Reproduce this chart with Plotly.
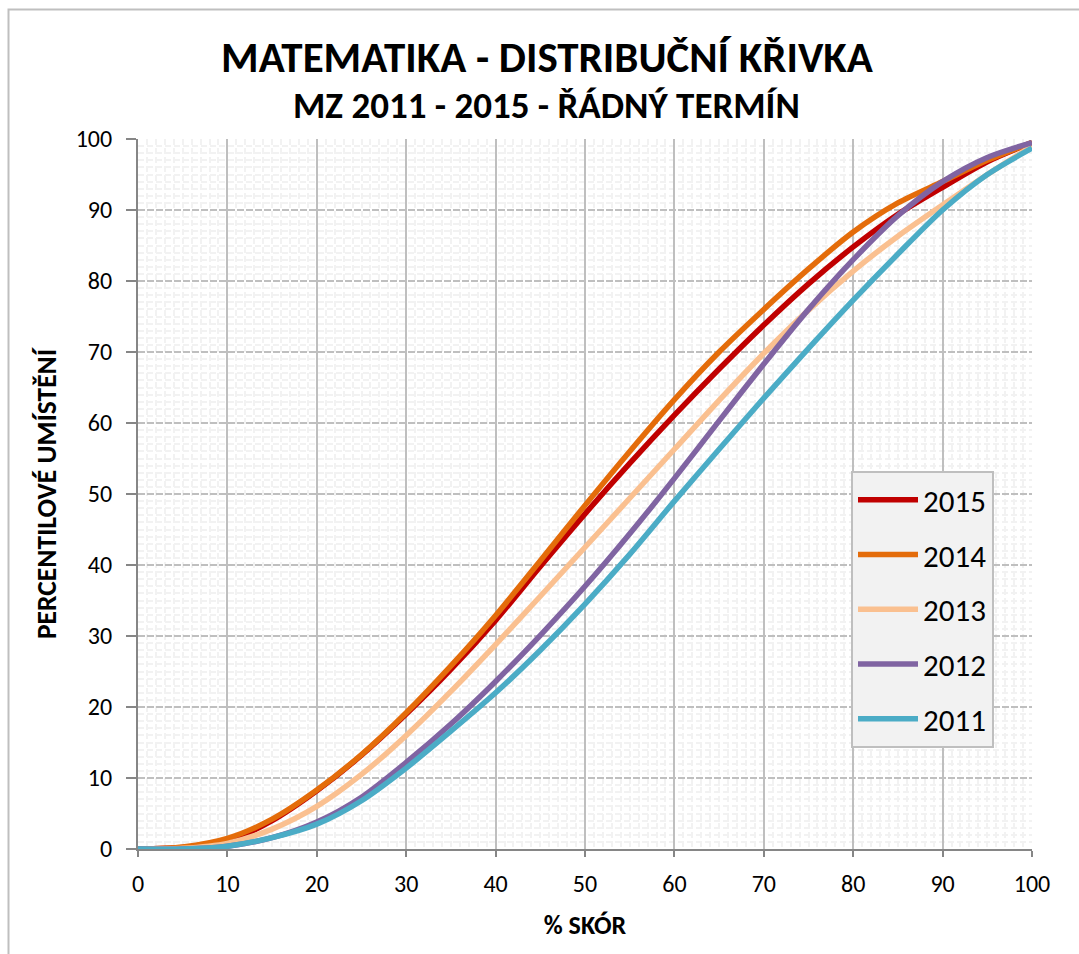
import plotly.graph_objects as go

# % score (x) values
score = [0, 5, 10, 15, 20, 25, 30, 35, 40, 45, 50, 55, 60, 65, 70, 75, 80, 85, 90, 95, 100]

# percentile position per year
y2015 = [0, 0.2, 1.1, 4.0, 8.2, 13.2, 19.0, 25.3, 32.2, 39.8, 47.2, 54.3, 61.1, 67.6, 73.8, 79.6, 84.8, 89.4, 93.2, 96.8, 99.5]
y2014 = [0, 0.3, 1.5, 4.2, 8.3, 13.3, 19.2, 25.8, 32.9, 40.6, 48.4, 56.0, 63.3, 70.0, 76.0, 81.7, 86.9, 91.0, 94.0, 97.0, 99.5]
y2013 = [0, 0.1, 0.8, 2.8, 6.0, 10.5, 16.0, 22.2, 28.8, 35.6, 42.5, 49.4, 56.3, 63.2, 69.8, 75.9, 81.4, 86.3, 90.7, 95.0, 99.0]
y2012 = [0, 0.0, 0.4, 1.6, 3.8, 7.3, 12.2, 17.6, 23.6, 30.1, 37.0, 44.4, 52.2, 60.3, 68.3, 76.0, 83.0, 89.2, 94.0, 97.4, 99.5]
y2011 = [0, 0.0, 0.4, 1.6, 3.5, 6.8, 11.4, 16.6, 22.0, 28.0, 34.5, 41.5, 49.0, 56.3, 63.5, 70.5, 77.3, 83.8, 90.0, 95.0, 98.7]

years = ["2015", "2014", "2013", "2012", "2011"]
series = [y2015, y2014, y2013, y2012, y2011]
colors = ["#C00000", "#E46C0A", "#FAC090", "#8064A2", "#4BACC6"]

tick_vals = [0, 10, 20, 30, 40, 50, 60, 70, 80, 90, 100]

title_text = "MATEMATIKA - DISTRIBUČNÍ KŘIVKA"
subtitle_text = "MZ 2011 - 2015 - ŘÁDNÝ TERMÍN"
x_title = "% SKÓR"
y_title = "PERCENTILOVÉ UMÍSTĚNÍ"

FONT = "Carlito, Calibri, Lato, sans-serif"

fig = go.Figure()
for name, ys, col in zip(years, series, colors):
    fig.add_trace(go.Scatter(
        x=score, y=ys, name=name, mode="lines", legendgroup=name,
        line=dict(color=col, width=5.5, shape="spline", smoothing=0.8),
    ))

W, H = 1079, 954
L, R, T, B = 138, 47, 139, 105
pw, ph = W - L - R, H - T - B

def px_to_paper_x(px):
    return (px - L) / pw

def px_to_paper_y(py):
    return (H - B - py) / ph

fig.update_layout(
    width=W, height=H,
    margin=dict(l=L, r=R, t=T, b=B),
    paper_bgcolor="white", plot_bgcolor="white",
    font=dict(family=FONT, color="black", size=24),
    title=dict(text="<b>" + title_text + "</b>", font=dict(size=43, family=FONT, color="black"),
               xref="container", yref="container", x=547 / W, y=1 - 57 / H,
               xanchor="center", yanchor="middle"),
    showlegend=True,
    legend=dict(
        x=px_to_paper_x(851), y=px_to_paper_y(471), xanchor="left", yanchor="top",
        bgcolor="#F2F2F2", bordercolor="#BFBFBF", borderwidth=2,
        font=dict(size=31, family=FONT, color="black"),
        traceorder="grouped", tracegroupgap=11.5, itemwidth=60,
    ),
    xaxis=dict(
        range=[0, 100], tickvals=tick_vals, ticks="outside", ticklen=6, tickwidth=2,
        tickcolor="#868686", showline=True, linecolor="#868686", linewidth=2,
        showgrid=True, gridcolor="#BFBFBF", gridwidth=2, zeroline=False,
        tickfont=dict(size=24, family=FONT), ticklabelstandoff=6,
        title=dict(text="<b>" + x_title + "</b>", font=dict(size=26, family=FONT), standoff=19),
        minor=dict(dtick=1, showgrid=True, gridcolor="#F2F2F2", gridwidth=2, griddash="6px,3px"),
    ),
    yaxis=dict(
        range=[0, 100], tickvals=tick_vals, ticks="outside", ticklen=10, tickwidth=2,
        tickcolor="#868686", showline=True, linecolor="#868686", linewidth=2,
        showgrid=True, gridcolor="#BFBFBF", gridwidth=2, griddash="7px,2px", zeroline=False,
        tickfont=dict(size=24, family=FONT), ticklabelstandoff=9,
        title=dict(text="<b>" + y_title + "</b>", font=dict(size=27.5, family=FONT), standoff=11),
        minor=dict(dtick=1, showgrid=True, gridcolor="#F2F2F2", gridwidth=2, griddash="6px,3px"),
    ),
    annotations=[dict(
        text="<b>" + subtitle_text + "</b>", xref="paper", yref="paper",
        x=px_to_paper_x(546), y=px_to_paper_y(105), xanchor="center", yanchor="middle",
        showarrow=False, font=dict(size=37, family=FONT, color="black"),
    )],
    shapes=[dict(
        type="rect", xref="paper", yref="paper", layer="below",
        x0=px_to_paper_x(8.5), x1=px_to_paper_x(W + 20),
        y0=px_to_paper_y(H + 20), y1=px_to_paper_y(9.5),
        line=dict(color="#BFBFBF", width=2), fillcolor="rgba(0,0,0,0)",
    )],
)

fig.write_html(
    "out.html",
    config={"displayModeBar": False},
    post_script="document.body.style.margin='0';document.body.style.overflow='hidden';",
)
